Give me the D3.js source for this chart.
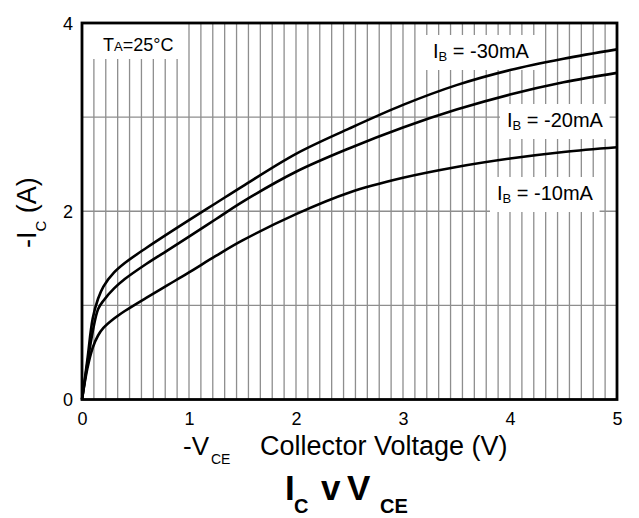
<!DOCTYPE html>
<html><head><meta charset="utf-8">
<script src="https://cdn.jsdelivr.net/npm/d3@7"></script>
<style>html,body{margin:0;padding:0;background:#fff;}svg{display:block;font-family:"Liberation Sans",Arial,Helvetica,sans-serif;}</style>
</head><body>
<script>
// ---- data ----
const vce  = [0, 0.05, 0.1, 0.15, 0.2, 0.3, 0.4, 0.6, 0.8, 1.0, 1.25, 1.5, 2.0, 2.5, 3.0, 3.5, 4.0, 4.5, 5.0];
const ic30 = [0, 0.42, 0.86, 1.07, 1.20, 1.35, 1.45, 1.61, 1.76, 1.905, 2.085, 2.265, 2.61, 2.88, 3.13, 3.34, 3.50, 3.62, 3.72];
const ic20 = [0, 0.38, 0.72, 0.96, 1.05, 1.18, 1.28, 1.44, 1.585, 1.73, 1.915, 2.10, 2.42, 2.67, 2.89, 3.08, 3.24, 3.37, 3.47];
const ic10 = [0, 0.33, 0.55, 0.68, 0.76, 0.86, 0.94, 1.08, 1.215, 1.35, 1.525, 1.69, 1.97, 2.20, 2.355, 2.47, 2.56, 2.63, 2.68];
const seriesNames = ["-30mA", "-20mA", "-10mA"];
const xTicks = [0, 1, 2, 3, 4, 5];
const yTicks = [0, 2, 4];
const yGrid = [1, 2, 3];
const xGridDivisions = 45; // fine vertical grid: 45 divisions across 0..5 V

const W = 639, H = 518;
const svg = d3.select("body").append("svg").attr("width", W).attr("height", H);
const x = d3.scaleLinear().domain([0, 5]).range([82, 617]);
const y = d3.scaleLinear().domain([0, 4]).range([399.5, 23]);

// grid
const xGrid = d3.range(1, xGridDivisions).map(k => k * 5 / xGridDivisions);
const grid = svg.append("g").attr("stroke", "#8e8e8e").attr("stroke-width", 1.3);
grid.selectAll("line.v").data(xGrid).join("line").attr("class", "v")
  .attr("x1", d => x(d)).attr("x2", d => x(d)).attr("y1", y(0)).attr("y2", y(4));
grid.selectAll("line.h").data(yGrid).join("line").attr("class", "h")
  .attr("x1", x(0)).attr("x2", x(5)).attr("y1", d => y(d)).attr("y2", d => y(d));

const boxG = svg.append("g");
const curveG = svg.append("g");
const textG = svg.append("g");

const line = d3.line().x(d => x(d[0])).y(d => y(d[1])).curve(d3.curveCatmullRom.alpha(0.5));
[ic30, ic20, ic10].forEach(s => {
  curveG.append("path").attr("d", line(vce.map((v, i) => [v, s[i]])))
    .attr("fill", "none").attr("stroke", "#000").attr("stroke-width", 2.6);
});

// frame
svg.append("rect").attr("x", x(0)).attr("y", y(4)).attr("width", x(5) - x(0)).attr("height", y(0) - y(4))
  .attr("fill", "none").attr("stroke", "#000").attr("stroke-width", 2.8);

// axes tick labels
const xAxis = d3.axisBottom(x).tickValues(xTicks).tickSize(0).tickPadding(0).tickFormat(d3.format("d"));
const xa = svg.append("g").attr("transform", `translate(0,${y(0)})`).call(xAxis);
xa.select(".domain").remove();
xa.selectAll("text").attr("font-size", 18).attr("font-family", "Liberation Sans, Arial, sans-serif")
  .attr("fill", "#000").attr("dy", null).attr("y", 25.5);
const yAxis = d3.axisLeft(y).tickValues(yTicks).tickSize(0).tickPadding(0).tickFormat(d3.format("d"));
const ya = svg.append("g").attr("transform", `translate(${x(0)},0)`).call(yAxis);
ya.select(".domain").remove();
ya.selectAll("text").attr("font-size", 18).attr("font-family", "Liberation Sans, Arial, sans-serif")
  .attr("fill", "#000").attr("x", -9).attr("dy", "0.36em");

function boxLabel(tx, ty, build, pad) {
  const t = textG.append("text").attr("x", tx).attr("y", ty).attr("font-size", 20).attr("fill", "#000");
  build(t);
  const b = t.node().getBBox();
  boxG.append("rect").attr("x", b.x - pad[3]).attr("y", b.y - pad[0])
    .attr("width", b.width + pad[1] + pad[3]).attr("height", b.height + pad[0] + pad[2]).attr("fill", "#fff");
  return t;
}
// T_A label
(function () {
  const t = textG.append("text").attr("x", 103).attr("y", 51).attr("font-size", 18).attr("fill", "#000");
  t.append("tspan").text("T");
  t.append("tspan").attr("font-size", 13).text("A");
  t.append("tspan").text("=25°C");
  const b = t.node().getBBox();
  boxG.append("rect").attr("x", b.x - 10).attr("y", y(4)).attr("width", b.width + 24)
    .attr("height", b.y + b.height + 4 - y(4)).attr("fill", "#fff");
})();
const ibLabelPos = [[433, 58], [507, 127], [497, 200]];
seriesNames.forEach((nm, i) => {
  boxLabel(ibLabelPos[i][0], ibLabelPos[i][1], t => {
    t.append("tspan").text("I");
    t.append("tspan").attr("font-size", 13).attr("dy", 3).text("B");
    t.append("tspan").attr("dy", -3).text(" = " + nm);
  }, [5, 6, 6, 7]);
});

// x axis title
const xt = svg.append("g").attr("fill", "#000");
xt.append("text").attr("x", 183).attr("y", 455).attr("font-size", 26).text("-V");
xt.append("text").attr("x", 211).attr("y", 464).attr("font-size", 14).text("CE");
xt.append("text").attr("x", 260).attr("y", 455).attr("font-size", 27).text("Collector Voltage (V)");

// y axis title
const yt = svg.append("text").attr("transform", "translate(36,248) rotate(-90)").attr("font-size", 27).attr("fill", "#000");
yt.append("tspan").text("-I");
yt.append("tspan").attr("font-size", 15).attr("dy", 10).text("C");
yt.append("tspan").attr("dy", -10).text(" (A)");

// title
const tt = svg.append("g").attr("fill", "#000").attr("font-weight", "bold");
tt.append("text").attr("x", 285).attr("y", 500).attr("font-size", 35).text("I");
tt.append("text").attr("x", 294).attr("y", 513).attr("font-size", 20).text("C");
tt.append("text").attr("x", 321).attr("y", 500).attr("font-size", 35).text("v");
tt.append("text").attr("x", 347).attr("y", 500).attr("font-size", 35).text("V");
tt.append("text").attr("x", 380).attr("y", 513).attr("font-size", 20).text("CE");
</script>
</body></html>
